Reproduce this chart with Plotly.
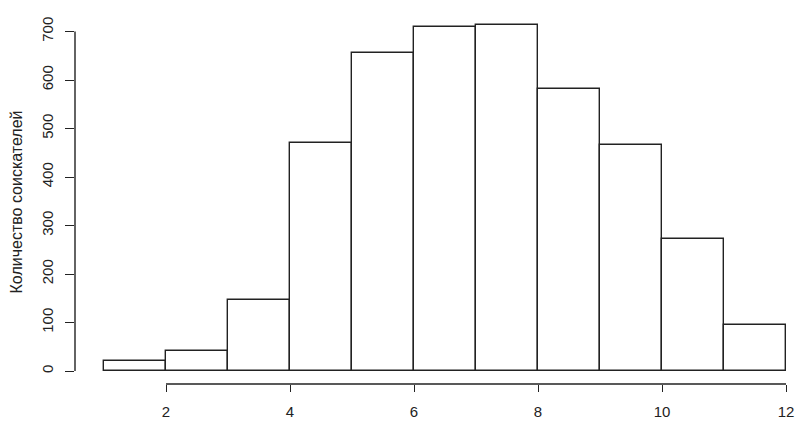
import plotly.graph_objects as go

# границы интервалов и частоты
bin_edges = [1, 2, 3, 4, 5, 6, 7, 8, 9, 10, 11, 12]
counts = [20, 42, 146, 470, 656, 709, 714, 581, 467, 273, 95]
x_ticks = [2, 4, 6, 8, 10, 12]
y_ticks = [0, 100, 200, 300, 400, 500, 600, 700]
y_title = "Количество соискателей"

centers = [(a + b) / 2 for a, b in zip(bin_edges[:-1], bin_edges[1:])]
widths = [b - a for a, b in zip(bin_edges[:-1], bin_edges[1:])]

font = "Liberation Sans, Arial, sans-serif"
ink = "#222222"

fig = go.Figure()
fig.add_trace(go.Bar(
    x=centers, y=counts, width=widths,
    marker=dict(color="white", line=dict(color=ink, width=1.4)),
    showlegend=False,
))

# оси в стиле R: линии только до крайних делений
fig.add_shape(type="line", xref="x", yref="paper", x0=x_ticks[0], x1=x_ticks[-1], y0=0, y1=0,
              line=dict(color=ink, width=1.4))
fig.add_shape(type="line", xref="paper", yref="y", x0=0, x1=0, y0=y_ticks[0], y1=y_ticks[-1],
              line=dict(color=ink, width=1.4))

# страница браузера добавляет 8px отступа, поэтому фигура чуть меньше окна
fig.update_layout(
    width=798, height=418,
    margin=dict(l=67, r=10, t=12, b=42, autoexpand=False),
    paper_bgcolor="white", plot_bgcolor="white",
    bargap=0,
    font=dict(family=font, size=15, color=ink),
    xaxis=dict(range=[0.532, 12.161], tickvals=x_ticks, ticks="outside", ticklen=7,
               tickwidth=1.4, tickcolor=ink, showgrid=False, zeroline=False, showline=False,
               ticklabelstandoff=7, automargin=False),
    yaxis=dict(range=[-26.8, 723.7], tickvals=y_ticks, ticks="outside", ticklen=9,
               tickwidth=1.4, tickcolor=ink, tickangle=-90, showgrid=False, zeroline=False,
               showline=False, ticklabelstandoff=6, automargin=False,
               title=dict(text=y_title, standoff=13, font=dict(size=16))),
)

fig.write_html("out.html")
